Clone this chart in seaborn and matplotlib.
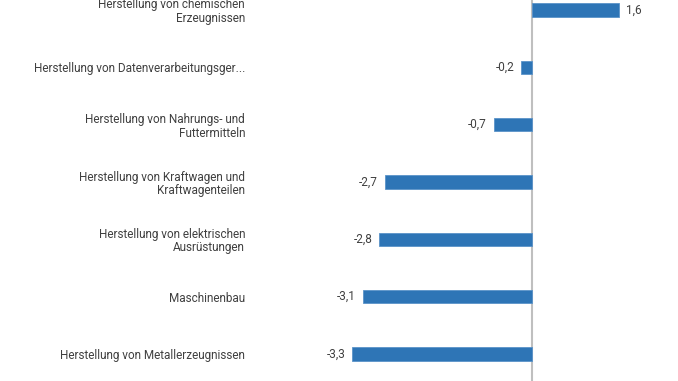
#!/usr/bin/env python3
"""Horizontal bar chart: change by industry (German labels)."""
import pandas as pd
import seaborn as sns
import matplotlib.pyplot as plt

categories = [
    "Herstellung von chemischen\nErzeugnissen",
    "Herstellung von Datenverarbeitungsger...",
    "Herstellung von Nahrungs- und\nFuttermitteln",
    "Herstellung von Kraftwagen und\nKraftwagenteilen",
    "Herstellung von elektrischen\nAusrüstungen",
    "Maschinenbau",
    "Herstellung von Metallerzeugnissen",
]
values = [1.6, -0.2, -0.7, -2.7, -2.8, -3.1, -3.3]

df = pd.DataFrame({"Branche": categories, "Wert": values})

sns.set_style("white")
plt.rcParams["font.family"] = ["Roboto", "DejaVu Sans"]

W, H = 678, 381
fig = plt.figure(figsize=(W / 100, H / 100), dpi=100)
# axes is taller than the figure: the reference is cropped top and bottom
left_px, right_px = 252, 678
top_px, bottom_px = -18.7, 382.7
ax = fig.add_axes([left_px / W, (H - bottom_px) / H,
                   (right_px - left_px) / W, (bottom_px - top_px) / H])

sns.barplot(data=df, y="Branche", x="Wert", orient="h", color="#2e75b6",
            width=0.23, saturation=1, edgecolor="#5b93c9", linewidth=0.6, ax=ax)

px_per_unit = 54.5
zero_px = 532
ax.set_xlim(-(zero_px - left_px) / px_per_unit, (right_px - zero_px) / px_per_unit)
ax.set_ylim(len(categories) - 0.5, -0.5)

ax.axvline(0, color="#bfbfbf", linewidth=1.5, zorder=0)

labels = [f"{v:.1f}".replace(".", ",") for v in values]
texts = ax.bar_label(ax.containers[0], labels=labels, padding=5, fontsize=8.5,
                     color="#404040")
for t in texts:
    t.set_verticalalignment("center")

ax.set_xticks([])
ax.set_xlabel("")
ax.set_ylabel("")
ax.tick_params(axis="y", length=0, pad=5, labelsize=8.5, labelcolor="#404040")
for lbl in ax.get_yticklabels():
    lbl.set_horizontalalignment("right")
    lbl.set_multialignment("right")
    lbl.set_linespacing(1.05)
sns.despine(ax=ax, left=True, bottom=True)

fig.savefig("out.png", dpi=100)
